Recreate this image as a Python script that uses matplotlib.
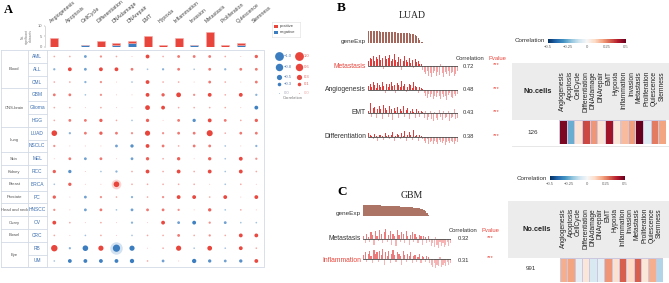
import matplotlib
matplotlib.use("Agg")
import matplotlib.pyplot as plt
import matplotlib.cm as cm
from matplotlib.colors import Normalize
import numpy as np

plt.rcParams['font.family'] = ['Liberation Sans', 'DejaVu Sans']

# ---------------- data ----------------
signatures = ["Angiogenesis", "Apoptosis", "CellCycle", "Differentiation", "DNAdamage",
              "DNArepair", "EMT", "Hypoxia", "Inflammation", "Invasion", "Metastasis",
              "Proliferation", "Quiescence", "Stemness"]
cancers = ["AML", "ALL", "CML", "GBM", "Glioma", "HGG", "LUAD", "NSCLC", "MEL", "RCC",
           "BRCA", "PC", "HNSCC", "OV", "CRC", "RB", "UM"]
groups = [("Blood", 0, 2), ("CNS-brain", 3, 5), ("Lung", 6, 7), ("Skin", 8, 8),
          ("Kidney", 9, 9), ("Breast", 10, 10), ("Prostate", 11, 11),
          ("Head and neck", 12, 12), ("Ovary", 13, 13), ("Bowel", 14, 14), ("Eye", 15, 16)]
pos_counts = [4, 0, 0, 3, 1, 1, 5, 1, 4, 0, 7, 1, 1, 0]
neg_counts = [0, 0, 1, 0, 1, 2, 0, 0, 0, 1, 0, 0, 1, 0]
corr = [
    [0.10, 0.10, -0.20, 0.15, 0.10, 0.05, 0.30, 0.10, 0.20, 0.20, 0.20, 0.10, 0.05, 0.25],
    [-0.15, 0.30, -0.20, 0.30, 0.30, 0.20, -0.10, -0.15, 0.20, -0.10, 0.20, -0.15, 0.20, 0.20],
    [0.10, 0.10, -0.15, 0.15, 0.05, -0.10, 0.30, 0.10, 0.10, 0.05, 0.20, 0.10, 0.05, 0.20],
    [0.20, 0.20, -0.10, 0.15, 0.05, 0.05, 0.30, 0.25, 0.40, 0.15, 0.30, 0.10, 0.30, -0.15],
    [0.10, 0.10, 0.05, 0.10, 0.05, 0.05, 0.40, 0.30, 0.10, 0.10, 0.10, 0.10, 0.05, -0.30],
    [0.10, 0.20, 0.20, 0.25, 0.10, -0.10, 0.25, 0.05, 0.20, -0.25, 0.30, 0.20, 0.10, 0.25],
    [0.50, -0.15, 0.20, 0.25, 0.20, 0.15, 0.45, 0.15, 0.20, 0.20, 0.55, 0.10, 0.20, 0.20],
    [0.15, 0.05, 0.05, 0.05, -0.20, -0.25, 0.30, 0.20, 0.10, 0.20, 0.20, -0.10, 0.05, -0.15],
    [0.05, 0.20, -0.20, 0.20, 0.05, -0.20, 0.25, 0.10, 0.25, 0.05, 0.25, -0.10, 0.30, 0.15],
    [0.25, -0.25, 0.05, -0.10, -0.15, 0.10, 0.30, 0.10, 0.30, 0.10, 0.30, -0.10, 0.30, 0.10],
    [-0.10, 0.25, 0.05, 0.05, 0.50, 0.10, 0.10, 0.10, 0.10, 0.10, 0.05, -0.10, 0.10, 0.05],
    [0.25, 0.05, -0.20, 0.15, 0.10, -0.15, 0.10, 0.15, 0.30, 0.30, 0.10, 0.30, 0.05, 0.30],
    [0.15, 0.05, -0.20, 0.20, -0.10, -0.20, 0.20, 0.20, 0.15, 0.05, 0.25, -0.10, 0.10, 0.05],
    [0.30, 0.10, 0.05, 0.10, 0.05, -0.15, 0.05, 0.30, -0.20, -0.30, 0.15, -0.20, -0.10, -0.10],
    [0.10, 0.05, -0.10, 0.10, 0.05, -0.10, 0.10, 0.10, 0.20, 0.10, 0.15, 0.10, 0.30, 0.30],
    [0.60, -0.15, -0.50, 0.45, -0.70, -0.45, 0.05, 0.10, 0.45, -0.10, 0.40, -0.10, 0.30, 0.10],
    [-0.10, -0.30, -0.30, -0.30, -0.30, -0.35, 0.10, -0.20, 0.05, -0.35, -0.25, -0.20, -0.25, 0.30],
]
halos = [(10, 4), (15, 4)]
legend_blue = ["\u22121.0", "\u22120.8", "\u22120.5", "\u22120.3", "0.0"]
legend_red = ["1.0", "0.6", "0.3", "0.1", "0.0"]
legend_size_vals = [1.0, 0.8, 0.5, 0.3, 0.05]

# panel B (LUAD)
luad_rows = ["Metastasis", "Angiogenesis", "EMT", "Differentiation"]
luad_corr_txt = ["0.72", "0.48", "0.43", "0.38"]
luad_gene = [1.0, 0.98, 0.97, 0.96, 0.95, 0.94, 0.93, 0.93, 0.92, 0.91, 0.9, 0.9, 0.89, 0.88, 0.88,
             0.87, 0.86, 0.86, 0.85, 0.84, 0.83, 0.83, 0.82, 0.81, 0.8, 0.79, 0.78, 0.77, 0.75, 0.73,
             0.7, 0.65, 0.55, 0.4, 0.25, 0.12, 0.05, 0.02] + [0.0] * 22
luad_met = [0.45, 0.7, 0.55, 0.85, 0.4, 0.75, 0.6, 0.9, 0.5, 0.65, -0.25, 0.8, 0.55, 0.7, 0.95,
            0.45, 0.6, 1.0, 0.5, 0.35, 0.75, 0.6, -0.3, 0.45, 0.8, 0.5, 0.3, 0.65, 0.25, 0.5,
            -0.2, 0.55, 0.3, 0.4, 0.2, 0.15, -0.35,
            -0.5, -0.7, -0.4, -0.8, -0.55, -0.9, -0.6, -0.45, -0.85, -0.5, -0.75, 0.15, -0.6,
            -0.95, -0.5, -0.7, -0.4, -0.85, -0.6, -0.5, -0.8, -0.65, -0.45]
luad_ang = [0.3, 0.5, 0.2, 0.6, 0.35, 0.15, 0.55, 0.4, 0.25, 0.6, 0.3, -0.3, 0.5, 0.2, 0.45,
            0.65, 0.3, 0.4, -0.25, 0.55, 0.35, 0.2, 0.7, 0.3, 0.45, -0.2, 0.25, 0.5, 0.35, 0.15,
            0.6, 0.3, 0.2, -0.3, 0.25, 0.1, 0.05,
            -0.3, -0.5, -0.7, -0.4, -0.6, -0.35, -0.8, -0.5, -0.65, -0.3, -0.55, -0.75, -0.4,
            -0.6, -0.5, -0.85, -0.45, -0.3, -0.6, -0.7, -0.4, -0.55, -0.35]
luad_emt = [0.2, 0.8, -0.3, 0.4, 0.5, -0.4, 0.3, 0.6, 0.35, -0.5, 0.7, 0.4, 0.25, -0.3, 0.55,
            0.3, -0.6, 0.45, 0.2, 0.5, -0.4, 0.3, 0.15, 0.6, -0.3, 0.25, 0.4, -0.5, 0.2, 0.35,
            0.1, -0.4, 0.3, 0.15, -0.3, 0.2, 0.1,
            -0.4, 0.15, -0.6, -0.3, 0.2, -0.5, -0.7, 0.1, -0.4, -0.55, 0.25, -0.3, -0.6, 0.15,
            -0.45, -0.35, 0.2, -0.65, -0.4, -0.3, 0.3, -0.5, -0.4]
luad_diff = [0.3, 0.15, 0.1, -0.2, 0.25, 0.1, -0.3, 0.2, 0.15, 0.05, -0.25, 0.3, 0.1, 0.2, -0.2,
             0.15, 0.4, -0.3, 0.1, 0.25, 0.2, -0.2, 0.35, 0.1, 0.5, -0.3, 0.15, 0.45, 0.2, -0.25,
             0.6, 0.1, 0.2, -0.3, 0.15, 0.1, -0.2,
             -0.3, -0.5, -0.2, -0.6, -0.4, -0.35, -0.55, -0.3, -0.45, -0.6, -0.25, -0.4, -0.5,
             -0.3, -0.65, -0.4, -0.35, -0.5, -0.3, -0.45, -0.55, -0.3, -0.4]
luad_heat = [0.47, -0.25, 0.07, 0.33, 0.22, 0.07, 0.42, 0.06, 0.16, 0.21, 0.52, -0.06, 0.26, 0.2]
luad_ncells = "126"

# panel C (GBM)
gbm_rows = ["Metastasis", "Inflammation"]
gbm_corr_txt = ["0.32", "0.31"]
gbm_gene = [1.0, 0.99, 0.98, 0.975, 0.97, 0.96, 0.955, 0.95, 0.94, 0.935, 0.93, 0.92, 0.915, 0.91,
            0.9, 0.895, 0.89, 0.88, 0.875, 0.87, 0.86, 0.855, 0.85, 0.84, 0.835, 0.83, 0.82, 0.81,
            0.8, 0.79, 0.78, 0.77, 0.76, 0.75, 0.74, 0.73, 0.72, 0.7, 0.68, 0.65, 0.6, 0.52, 0.4,
            0.25, 0.1, 0.02] + [0.0] * 14
gbm_met = [0.3, -0.4, 0.5, 0.2, -0.3, 0.6, 0.4, -0.5, 0.7, 0.3, -0.2, 0.8, 0.5, -0.4, 0.6,
           0.9, -0.3, 0.4, 0.7, -0.5, 0.5, 0.3, -0.6, 0.8, 0.4, -0.3, 0.6, 0.5, -0.4, 0.7,
           0.3, -0.5, 0.4, 0.6, -0.3, 0.5, 0.2, -0.4, 0.4, 0.3, -0.5, 0.3, 0.2, -0.4, 0.3, -0.3,
           -0.6, -0.4, -0.7, 0.2, -0.5, -0.8, -0.3, -0.6, -0.4, -0.7, -0.5, -0.3, -0.6, -0.4]
gbm_infl = [0.4, 0.6, -0.3, 0.5, 0.7, 0.3, -0.4, 0.8, 0.5, 0.6, -0.3, 0.7, 0.4, 0.9, -0.5,
            0.6, 0.3, 0.7, -0.4, 0.5, 0.8, 0.4, -0.3, 0.6, 0.5, 0.3, -0.5, 0.7, 0.4, -0.3,
            0.5, 0.3, 0.6, -0.4, 0.3, 0.4, -0.3, 0.2, 0.5, -0.4, 0.3, 0.2, -0.3, 0.3, 0.2, -0.4,
            -0.5, -0.7, -0.4, -0.8, -0.5, -0.6, 0.2, -0.7, -0.5, -0.4, -0.6, -0.3, -0.5, -0.4]
gbm_heat = [0.18, 0.2, -0.05, 0.06, -0.08, -0.05, 0.22, 0.08, 0.3, 0.1, 0.3, 0.06, 0.18, -0.15]
gbm_ncells = "991"

# ---------------- figure helpers ----------------
W, H = 669, 283
fig = plt.figure(figsize=(W / 100, H / 100), dpi=100)


def ax_px(x0, y0, w, h):
    return fig.add_axes([x0 / W, 1 - (y0 + h) / H, w / W, h / H])


def txt(x, y, s, **kw):
    kw.setdefault("va", "center")
    fig.text(x / W, 1 - y / H, s, **kw)


RED = "#e8453c"
BLUE = "#3b7dbf"
LINE = "#d3dbe6"
SERIF = ["Liberation Serif", "DejaVu Serif"]
SIZE_K = 46

# ---------------- panel A ----------------
txt(8, 10, "A", fontsize=9, fontweight="bold", family=SERIF, ha="center")

col_x0, col_dx = 54.3, 15.54
row_y0, row_dy = 56.5, 12.78
col_x = [col_x0 + col_dx * j for j in range(len(signatures))]
row_y = [row_y0 + row_dy * i for i in range(len(cancers))]

# column headers
for j, s in enumerate(signatures):
    txt(col_x[j] - 2, 23.5, s, fontsize=3.8, color="#444", rotation=40,
        ha="left", va="bottom", rotation_mode="anchor")

# bar chart of significant datasets
axb = ax_px(45, 25.5, 220, 21.5)
axb.bar(col_x, neg_counts, width=8, color=BLUE, edgecolor="#a9c6e6", linewidth=0.4)
axb.bar(col_x, pos_counts, width=8, bottom=neg_counts, color=RED,
        edgecolor="#f4aaa6", linewidth=0.4)
axb.set_xlim(45, 265)
axb.set_ylim(0, 10)
axb.set_yticks([0, 5, 10])
axb.tick_params(axis="y", labelsize=3, length=1, width=0.3, pad=1, colors="#777")
axb.set_xticks([])
for sp in ["top", "right", "bottom"]:
    axb.spines[sp].set_visible(False)
axb.spines["left"].set_color("#bbb")
axb.spines["left"].set_linewidth(0.4)
axb.patch.set_alpha(0)
txt(27, 36, "No.\nsignificant\ndatasets", fontsize=2.4, color="#777", rotation=90,
    ha="center", linespacing=1.0)

# legend positive / negative
axl = ax_px(272, 22, 28, 15)
axl.set_xlim(0, 28)
axl.set_ylim(15, 0)
axl.set_xticks([])
axl.set_yticks([])
for sp in axl.spines.values():
    sp.set_color("#ddd")
    sp.set_linewidth(0.4)
axl.scatter([4, 4], [4.5, 10.5], s=5, marker="s", color=[RED, BLUE], linewidths=0)
axl.text(7.5, 4.5, "positive", fontsize=3, va="center", color="#444")
axl.text(7.5, 10.5, "negative", fontsize=3, va="center", color="#444")

# table
axt = ax_px(0, 49, 266, 220)
axt.set_xlim(0, 266)
axt.set_ylim(269, 49)
axt.set_axis_off()
top = row_y[0] - row_dy / 2
bot = row_y[-1] + row_dy / 2
xl, xg, xc, xr = 0.5, 28, 46.5, 264
axt.plot([xl, xr, xr, xl, xl], [top, top, bot, bot, top], color=LINE, lw=0.6)
axt.plot([xg, xg], [top, bot], color=LINE, lw=0.6)
axt.plot([xc, xc], [top, bot], color=LINE, lw=0.6)
for (g, a, b) in groups:
    yb = row_y[b] + row_dy / 2
    axt.plot([xl, xc], [yb, yb], color=LINE, lw=0.6)
    axt.text((xl + xg) / 2, (row_y[a] + row_y[b]) / 2, g, fontsize=3, color="#555",
             ha="center", va="center")
    for r in range(a, b):
        yy = row_y[r] + row_dy / 2
        axt.plot([xg, xc], [yy, yy], color=LINE, lw=0.6)
for i, c in enumerate(cancers):
    axt.text((xg + xc) / 2, row_y[i], c, fontsize=3.5, color="#3d6fb0",
             ha="center", va="center")

xs, ys, ss, cs = [], [], [], []
for i in range(len(cancers)):
    for j in range(len(signatures)):
        v = corr[i][j]
        xs.append(col_x[j])
        ys.append(row_y[i])
        ss.append(SIZE_K * abs(v) ** 1.5)
        base = RED if v > 0 else BLUE
        rgba = list(matplotlib.colors.to_rgba(base))
        rgba[3] = min(1.0, 0.2 + abs(v) * 2.6)
        cs.append(rgba)
for (i, j) in halos:
    v = corr[i][j]
    axt.scatter([col_x[j]], [row_y[i]], s=SIZE_K * abs(v) ** 1.5 * 3.0,
                color=RED if v > 0 else BLUE, alpha=0.22, linewidths=0)
axt.scatter(xs, ys, s=ss, c=cs, linewidths=0)

# bubble legend
axg = ax_px(270, 48, 45, 56)
axg.set_xlim(270, 315)
axg.set_ylim(104, 48)
axg.set_axis_off()
leg_y = [55.7, 67.3, 76.7, 84.3, 92.7]
for k in range(5):
    s = 40 * legend_size_vals[k] ** 1.5
    a = 1.0 if k < 4 else 0.3
    axg.scatter([279], [leg_y[k]], s=s, color=BLUE, alpha=a, linewidths=0)
    axg.scatter([299], [leg_y[k]], s=s, color=RED, alpha=a, linewidths=0)
    axg.text(283.5, leg_y[k], legend_blue[k], fontsize=3, color="#5b7fae" if k < 4 else "#aab",
             va="center")
    axg.text(303.5, leg_y[k], legend_red[k], fontsize=3, color="#e0665f" if k < 4 else "#e9aaa6",
             va="center")
axg.text(293, 98.5, "Correlation", fontsize=3, color="#777", ha="center", va="center")


# ---------------- trace helpers ----------------
def gene_axis(x0, y0, w, h, vals, color, width):
    a = ax_px(x0, y0, w, h)
    a.bar(range(len(vals)), vals, width=width, color=color, linewidth=0)
    a.axhline(0, color="#999", lw=0.5)
    a.set_xlim(-0.5, len(vals) - 0.5)
    a.set_ylim(0, 1.05)
    a.set_axis_off()


def trace_axis(x0, y0, w, h, vals, split, strong, light, amp=1.0):
    a = ax_px(x0, y0, w, h)
    cols = []
    for k, v in enumerate(vals):
        cols.append(strong if (k < split and v > 0) else light)
    a.bar(range(len(vals)), vals, width=0.82, color=cols, linewidth=0)
    a.axhline(0, color="#4a4a4a", lw=0.6)
    a.set_xlim(-0.5, len(vals) - 0.5)
    a.set_ylim(-amp, amp)
    a.set_axis_off()


norm = Normalize(-0.5, 0.5)
cmap = plt.get_cmap("RdBu_r")


def heat_block(hx, hy, hw, hh, vals, gray_box, label_top, ncells, nc_xy, cb_box, cbl_xy):
    # colorbar
    txt(cbl_xy[0], cbl_xy[1], "Correlation", fontsize=4.5, color="#333", ha="left")
    cax = ax_px(*cb_box)
    cb = fig.colorbar(cm.ScalarMappable(norm=norm, cmap=cmap), cax=cax,
                      orientation="horizontal")
    cb.set_ticks([-0.5, -0.25, 0, 0.25, 0.5])
    cb.set_ticklabels(["\u22120.5", "\u22120.25", "0", "0.25", "0.5"])
    cb.ax.tick_params(labelsize=3, length=0, pad=1.2, colors="#666")
    cb.outline.set_visible(False)
    # gray header
    g = ax_px(*gray_box)
    g.set_facecolor("#ececec")
    g.set_xticks([])
    g.set_yticks([])
    for sp in g.spines.values():
        sp.set_visible(False)
    gx0, gy0, gw, gh = gray_box
    txt(nc_xy[0], gy0 + gh * 0.5, "No.cells", fontsize=5.3, fontweight="bold",
        color="#222", ha="center")
    txt(nc_xy[0] - 11, nc_xy[1], ncells, fontsize=4.5, color="#333", ha="left")
    # heat row
    a = ax_px(hx, hy, hw, hh)
    a.pcolormesh(np.array([vals]), cmap=cmap, norm=norm, edgecolors="#cac7de",
                 linewidth=0.4)
    a.set_axis_off()
    dx = hw / len(signatures)
    for j, s in enumerate(signatures):
        txt(hx + dx * (j + 0.5), label_top, s, fontsize=4.8, color="#222", rotation=90,
            ha="center", va="top")
    # bottom rule
    fig.add_artist(plt.Line2D([gx0 / W, 1], [1 - (hy + hh + 1.5) / H] * 2,
                              color="#dddddd", lw=0.5))


# ---------------- panel B ----------------
txt(341, 8, "B", fontsize=9.5, fontweight="bold", family=SERIF, ha="center")
txt(412, 16, "LUAD", fontsize=7, family=SERIF, ha="center", color="#222")
gene_axis(368, 30, 90, 13, luad_gene, "#a5675c", 0.75)
txt(366, 42, "geneExp", fontsize=4.6, color="#333", ha="right")
luad_traces = [luad_met, luad_ang, luad_emt, luad_diff]
luad_base = [66, 89.5, 113, 137]
for k, (name, tr) in enumerate(zip(luad_rows, luad_traces)):
    yb = luad_base[k]
    trace_axis(368, yb - 12, 90, 24, tr, 37, "#e03c3c", "#f3a3a3")
    txt(366, yb, name, fontsize=4.9, color=RED if k == 0 else "#333", ha="right")
    txt(468, yb, luad_corr_txt[k], fontsize=4.2, color="#333", ha="center")
    txt(496, yb - 1, "***", fontsize=4.2, color=RED, ha="center")
txt(470, 59, "Correlation", fontsize=4.2, color="#333", ha="center")
txt(497, 59, "Pvalue", fontsize=4.2, color=RED, ha="center")

heat_block(559, 120, 107, 24, luad_heat, (512, 63, 157, 57), 71, luad_ncells, (538, 132),
           (548, 39, 78, 4), (515, 41))

# ---------------- panel C ----------------
txt(342, 192, "C", fontsize=9.5, fontweight="bold", family=SERIF, ha="center")
txt(412, 195, "GBM", fontsize=7, family=SERIF, ha="center", color="#222")
gene_axis(363, 204, 88, 12, gbm_gene, "#ab7465", 1.0)
txt(361, 214, "geneExp", fontsize=4.6, color="#333", ha="right")
gbm_traces = [gbm_met, gbm_infl]
gbm_base = [239, 259]
for k, (name, tr) in enumerate(zip(gbm_rows, gbm_traces)):
    yb = gbm_base[k]
    trace_axis(363, yb - 11, 88, 22, tr, 46, "#ee7b7b", "#f6b4b4")
    txt(361, yb + (2 if k == 1 else 0), name, fontsize=4.9,
        color=RED if k == 1 else "#333", ha="right")
    txt(463, yb + (2 if k == 1 else 0), gbm_corr_txt[k], fontsize=4.2, color="#333",
        ha="center")
    txt(490, yb - 1, "***", fontsize=4.2, color=RED, ha="center")
txt(463, 231, "Correlation", fontsize=4.2, color="#333", ha="center")
txt(490, 231, "Pvalue", fontsize=4.2, color=RED, ha="center")

heat_block(560, 258, 103, 24, gbm_heat, (508, 201, 161, 57), 208, gbm_ncells, (537, 268),
           (550, 176, 75, 4), (517, 178))

fig.savefig("out.png", dpi=100)
